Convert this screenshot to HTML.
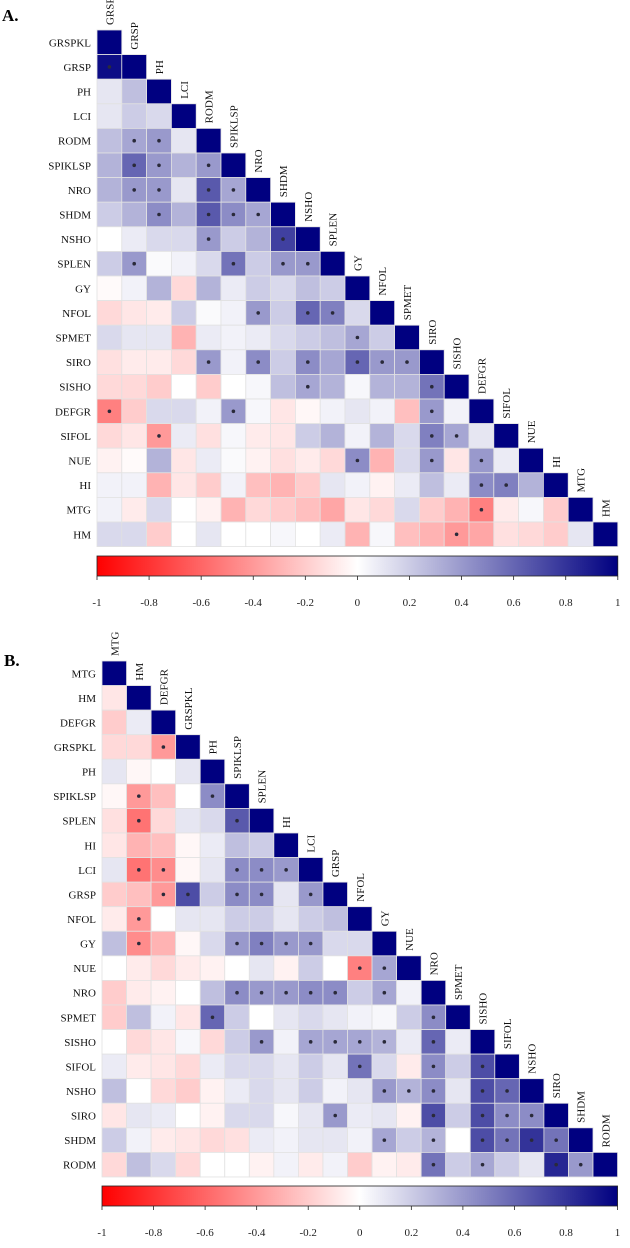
<!DOCTYPE html>
<html><head><meta charset="utf-8">
<style>
html,body{margin:0;padding:0;background:#fff;}
body{width:630px;height:1243px;overflow:hidden;}
svg text{font-family:"Liberation Serif","Times New Roman",serif;}
</style></head>
<body>
<svg id="chart" width="630" height="1243" xmlns="http://www.w3.org/2000/svg">
<defs>
<linearGradient id="cbar" x1="0" x2="1" y1="0" y2="0">
<stop offset="0" stop-color="#ff0000"/><stop offset="0.5" stop-color="#ffffff"/><stop offset="1" stop-color="#000080"/>
</linearGradient>
</defs>
<text x="2" y="21" font-size="17" font-weight="bold" font-family="Liberation Serif, serif">A.</text>
<text x="4" y="666" font-size="17" font-weight="bold" font-family="Liberation Serif, serif">B.</text>
</svg>
<script>
const varsA = ["GRSPKL","GRSP","PH","LCI","RODM","SPIKLSP","NRO","SHDM","NSHO","SPLEN","GY","NFOL","SPMET","SIRO","SISHO","DEFGR","SIFOL","NUE","HI","MTG","HM"];
const valsA = [
[],
[0.95],
[0.1,0.25],
[0.1,0.2,0.15],
[0.25,0.35,0.4,0.1],
[0.3,0.6,0.4,0.3,0.4],
[0.3,0.4,0.4,0.1,0.65,0.35],
[0.2,0.3,0.45,0.3,0.65,0.45,0.35],
[0.0,0.08,0.15,0.15,0.4,0.2,0.3,0.75],
[0.2,0.4,0.02,0.05,0.15,0.55,0.2,0.4,0.4],
[-0.02,0.05,0.3,-0.15,0.3,0.08,0.2,0.15,0.25,0.2],
[-0.15,-0.1,-0.08,0.2,0.02,0.05,0.4,0.2,0.6,0.5,0.15],
[0.15,0.1,0.1,-0.3,0.08,0.05,0.08,0.15,0.2,0.25,0.35,0.2],
[-0.12,-0.08,-0.08,-0.15,0.4,0.05,0.45,0.2,0.45,0.35,0.6,0.4,0.4],
[-0.15,-0.15,-0.2,0.0,-0.2,0.0,0.03,0.25,0.35,0.3,0.03,0.3,0.3,0.55],
[-0.5,-0.2,0.15,0.15,0.05,0.4,0.03,-0.1,-0.03,0.05,0.1,0.05,-0.25,0.4,0.05],
[-0.15,-0.1,-0.4,0.08,-0.12,0.03,-0.08,-0.1,0.2,0.3,0.05,0.3,0.15,0.5,0.35,0.1],
[-0.05,-0.02,0.3,-0.1,0.08,0.02,-0.05,-0.12,-0.08,-0.15,0.45,-0.3,0.15,0.4,-0.1,0.4,0.08],
[0.05,0.05,-0.3,-0.1,-0.2,0.05,-0.25,-0.3,-0.2,0.1,0.05,-0.05,0.08,0.25,0.08,0.45,0.5,0.3],
[0.05,-0.08,0.15,0.0,-0.05,-0.3,-0.15,-0.2,-0.25,-0.35,-0.1,-0.15,0.15,-0.2,-0.3,-0.5,-0.08,0.03,-0.2],
[0.15,0.15,-0.2,0.0,0.1,0.0,0.0,0.03,0.0,0.08,-0.3,0.03,-0.25,-0.3,-0.4,-0.35,-0.12,-0.15,-0.2,0.1]
];
const sigA = [[],[0],[],[],[1,2],[1,2,4],[1,2,4,5],[2,4,5,6],[4,7],[1,5,7,8],[],[6,8,9],[10],[4,6,8,10,11,12],[8,13],[0,5,13],[2,13,14],[10,13,15],[15,16],[15],[14]];

const varsB = ["MTG","HM","DEFGR","GRSPKL","PH","SPIKLSP","SPLEN","HI","LCI","GRSP","NFOL","GY","NUE","NRO","SPMET","SISHO","SIFOL","NSHO","SIRO","SHDM","RODM"];
const valsB = [
[],
[-0.1],
[-0.2,0.08],
[-0.15,-0.15,-0.4],
[0.1,-0.03,0.0,0.1],
[-0.03,-0.4,-0.25,0.0,0.45],
[-0.12,-0.55,-0.15,0.1,0.15,0.65],
[-0.1,-0.3,-0.25,-0.03,0.08,0.25,0.2],
[0.1,-0.55,-0.45,-0.03,0.1,0.45,0.45,0.4],
[-0.2,-0.25,-0.4,0.7,0.2,0.45,0.45,0.1,0.4],
[-0.08,-0.4,0.0,0.1,0.1,0.2,0.2,0.1,0.2,0.25],
[0.25,-0.45,-0.3,-0.03,0.15,0.4,0.5,0.4,0.4,0.15,0.15],
[0.0,-0.08,-0.15,-0.08,-0.05,0.0,0.1,-0.05,0.2,0.0,-0.5,0.35],
[-0.2,-0.08,-0.05,0.0,0.25,0.45,0.4,0.4,0.45,0.45,0.2,0.35,0.05],
[-0.2,0.25,0.05,-0.1,0.6,0.2,0.0,0.1,0.15,0.1,0.05,0.03,0.2,0.45],
[0.0,-0.15,-0.1,0.03,-0.15,0.2,0.4,0.05,0.35,0.35,0.35,0.3,0.08,0.6,0.08],
[0.08,-0.08,-0.1,-0.15,0.08,0.15,0.15,0.1,0.2,0.1,0.55,0.15,-0.08,0.45,0.2,0.7],
[0.25,0.0,-0.15,-0.2,-0.05,0.08,0.15,0.1,0.2,0.05,0.1,0.4,0.3,0.45,0.1,0.7,0.6],
[-0.1,0.1,0.08,0.0,-0.05,0.15,0.15,0.03,0.1,0.4,0.08,0.1,-0.05,0.7,0.2,0.7,0.45,0.45],
[0.2,0.05,-0.08,-0.1,-0.15,-0.12,0.08,0.05,0.1,0.1,0.05,0.35,0.2,0.3,0.0,0.7,0.55,0.8,0.55],
[-0.15,0.25,0.15,-0.15,0.0,0.0,-0.05,0.05,-0.08,0.05,-0.2,-0.05,-0.08,0.55,0.2,0.35,0.2,0.1,0.85,0.4]
];
const sigB = [[],[],[],[2],[],[1,4],[1,5],[],[1,2,5,6,7],[2,3,5,6,8],[1],[1,5,6,7,8],[10,11],[5,6,7,8,9,11],[4,13],[6,8,9,10,11,13],[10,13,15],[11,12,13,15,16],[9,13,15,16,17],[11,13,15,16,17,18],[13,15,18,19]];

const tickVals = [-1,-0.8,-0.6,-0.4,-0.2,0,0.2,0.4,0.6,0.8,1];

const NS = "http://www.w3.org/2000/svg";
const svg = document.getElementById("chart");
function mk(tag, attrs){const e=document.createElementNS(NS,tag);for(const k in attrs)e.setAttribute(k,attrs[k]);return e;}
function color(v){
  const t=Math.min(1,Math.abs(v));
  let r,g,b;
  if(v<0){r=255;g=Math.round(255*(1-t));b=g;}
  else{r=Math.round(255*(1-t));g=r;b=Math.round(255-127*t);}
  return "rgb("+r+","+g+","+b+")";
}
const FF="Liberation Serif, Times New Roman, serif";
function panel(p, vars, vals, sig, gx, gy, cw, ch, cbY, lblY){
  const grp=mk("g",{});
  
  
  svg.appendChild(grp);
  const n=vars.length;
  const xs=j=>gx+j*cw, ys=i=>gy+i*ch;
  for(let i=0;i<n;i++){
    const lab=mk("text",{x:gx-6,y:ys(i)+ch/2+4,"font-size":"11","font-family":FF,"text-anchor":"end",fill:"#111"});
    lab.textContent=vars[i];
    
    
    grp.appendChild(lab);
    const cx=xs(i)+cw/2+4, cy=ys(i)-5;
    const cl=mk("text",{x:cx,y:cy,"font-size":"11","font-family":FF,fill:"#111",transform:"rotate(-90 "+cx+" "+cy+")"});
    cl.textContent=vars[i];
    
    
    grp.appendChild(cl);
    for(let j=0;j<=i;j++){
      const v = (j===i)?1:vals[i][j];
      const r=mk("rect",{x:xs(j),y:ys(i),width:cw,height:ch,fill:color(v),stroke:"#e2e2e2","stroke-width":"0.8"});
      
      
      grp.appendChild(r);
      if(j<i && sig[i].indexOf(j)>=0){
        const s=mk("circle",{cx:xs(j)+cw/2,cy:ys(i)+ch/2,r:"1.8",fill:"#2a2a3a"});
        
        
        grp.appendChild(s);
      }
    }
  }
  const x0=gx, x1=gx+n*cw;
  const bar=mk("rect",{x:x0,y:cbY,width:x1-x0,height:20,fill:"url(#cbar)",stroke:"#222","stroke-width":"0.8"});
  
  
  svg.appendChild(bar);
  const cs=v=>x0+(v+1)/2*(x1-x0);
  tickVals.forEach(t=>{
    const tk=mk("line",{x1:cs(t),x2:cs(t),y1:cbY+20,y2:cbY+24,stroke:"#222","stroke-width":"0.8"});
    
    
    svg.appendChild(tk);
    const tl=mk("text",{x:cs(t),y:lblY,"font-size":"11","font-family":FF,"text-anchor":"middle",fill:"#222"});
    tl.textContent=String(t);
    
    
    svg.appendChild(tl);
  });
}
panel("panel-a", varsA, valsA, sigA, 97, 30, 24.8, 24.6, 556, 606);
panel("panel-b", varsB, valsB, sigB, 102, 661, 24.55, 24.57, 1186, 1236);
</script>
</body></html>
